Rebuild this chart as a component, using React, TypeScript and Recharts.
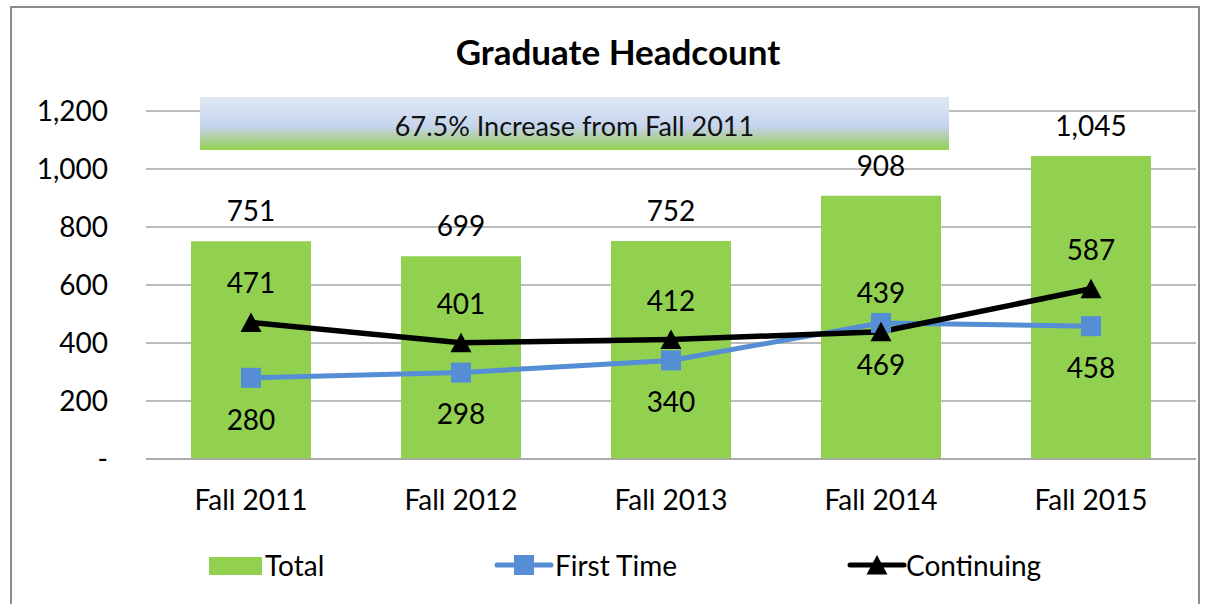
import { ComposedChart, Bar, Line, XAxis, YAxis, CartesianGrid, LabelList, Legend } from 'recharts'

const categories = ['Fall 2011', 'Fall 2012', 'Fall 2013', 'Fall 2014', 'Fall 2015']
const totalValues = [751, 699, 752, 908, 1045]
const firstTimeValues = [280, 298, 340, 469, 458]
const continuingValues = [471, 401, 412, 439, 587]
const yTicks = [0, 200, 400, 600, 800, 1000, 1200]

const data = categories.map((term, i) => ({
  term,
  total: totalValues[i],
  firstTime: firstTimeValues[i],
  continuing: continuingValues[i],
}))

const FONT = 'Lato, "Noto Sans", sans-serif'
const GREEN = '#92D050'
const BLUE = '#558ED5'
const GRID = '#A6A6A6'

function SquareDot(props: any) {
  const { cx, cy } = props
  if (cx == null || cy == null) return null
  return <rect x={cx - 10} y={cy - 10} width={20} height={20} fill={BLUE} />
}

function TriangleDot(props: any) {
  const { cx, cy } = props
  if (cx == null || cy == null) return null
  return <polygon points={`${cx},${cy - 10} ${cx + 10.5},${cy + 9.5} ${cx - 10.5},${cy + 9.5}`} fill="#000" />
}

function LegendContent() {
  return (
    <div style={{ position: 'relative', width: 1208, height: 40, fontFamily: FONT, fontSize: 28, color: '#000' }}>
      <div style={{ position: 'absolute', left: 209, top: 12, width: 53, height: 18, background: GREEN }} />
      <span style={{ position: 'absolute', left: 265, top: 0, lineHeight: '40px' }}>Total</span>
      <svg style={{ position: 'absolute', left: 494, top: 0 }} width={60} height={40}>
        <line x1={3} y1={20} x2={57} y2={20} stroke={BLUE} strokeWidth={5} strokeLinecap="round" />
        <rect x={20} y={10} width={20} height={20} fill={BLUE} />
      </svg>
      <span style={{ position: 'absolute', left: 555, top: 0, lineHeight: '40px' }}>First Time</span>
      <svg style={{ position: 'absolute', left: 847, top: 0 }} width={60} height={40}>
        <line x1={3} y1={20} x2={57} y2={20} stroke="#000" strokeWidth={5} strokeLinecap="round" />
        <polygon points="30,10 40.5,29.5 19.5,29.5" fill="#000" />
      </svg>
      <span style={{ position: 'absolute', left: 906, top: 0, lineHeight: '40px' }}>Continuing</span>
    </div>
  )
}

export default function App() {
  return (
    <div style={{ position: 'absolute', left: 0, top: 0, width: 1208, height: 604, overflow: 'hidden', background: '#fff', fontFamily: FONT }}>
      <div style={{ position: 'absolute', left: 10, top: 6, width: 1186, height: 640, border: '2px solid #8C8C8C' }} />
      <ComposedChart
        width={1208}
        height={604}
        data={data}
        margin={{ top: 111, right: 12, bottom: 4, left: 0 }}
        style={{ position: 'absolute', left: 0, top: 0 }}
      >
        <CartesianGrid vertical={false} stroke={GRID} strokeWidth={1.5} />
        <XAxis
          dataKey="term"
          height={101}
          tickSize={0}
          tickMargin={31}
          axisLine={{ stroke: GRID, strokeWidth: 1.5 }}
          tick={{ fill: '#000', fontSize: 28, fontFamily: FONT }}
        />
        <YAxis
          width={146}
          domain={[0, 1200]}
          ticks={yTicks}
          axisLine={false}
          tickLine={false}
          tickSize={0}
          tickMargin={38}
          tick={{ fill: '#000', fontSize: 28, fontFamily: FONT }}
          tickFormatter={(v: number) => (v === 0 ? '-' : v.toLocaleString('en-US'))}
        />
        <Legend
          verticalAlign="bottom"
          content={() => <LegendContent />}
          wrapperStyle={{ left: 0, top: 545, width: 1208, height: 40 }}
        />
        <Bar dataKey="total" name="Total" fill={GREEN} barSize={120} isAnimationActive={false}>
          <LabelList
            dataKey="total"
            position="top"
            offset={20}
            formatter={(v: any) => Number(v).toLocaleString('en-US')}
            style={{ fill: '#000', fontSize: 28, fontFamily: FONT }}
          />
        </Bar>
        <Line
          dataKey="firstTime"
          name="First Time"
          stroke={BLUE}
          strokeWidth={5}
          dot={<SquareDot />}
          activeDot={false}
          isAnimationActive={false}
        >
          <LabelList dataKey="firstTime" position="bottom" offset={32} style={{ fill: '#000', fontSize: 28, fontFamily: FONT }} />
        </Line>
        <Line
          dataKey="continuing"
          name="Continuing"
          stroke="#000"
          strokeWidth={5.5}
          dot={<TriangleDot />}
          activeDot={false}
          isAnimationActive={false}
        >
          <LabelList dataKey="continuing" position="top" offset={29} style={{ fill: '#000', fontSize: 28, fontFamily: FONT }} />
        </Line>
      </ComposedChart>
      <div
        style={{
          position: 'absolute',
          left: 0,
          top: 27,
          width: 1236,
          lineHeight: '48px',
          textAlign: 'center',
          fontSize: 35,
          fontWeight: 700,
          color: '#000',
        }}
      >
        Graduate Headcount
      </div>
      <div
        style={{
          position: 'absolute',
          left: 200,
          top: 97,
          width: 749,
          height: 53,
          background: 'linear-gradient(to bottom, #E0E8F4 0%, #C5D4EE 55%, #B4CFB0 72%, #92D050 100%)',
          display: 'flex',
          alignItems: 'center',
          justifyContent: 'center',
          paddingTop: 4,
          boxSizing: 'border-box',
          fontSize: 27,
          color: '#111',
        }}
      >
        67.5% Increase from Fall 2011
      </div>
    </div>
  )
}
